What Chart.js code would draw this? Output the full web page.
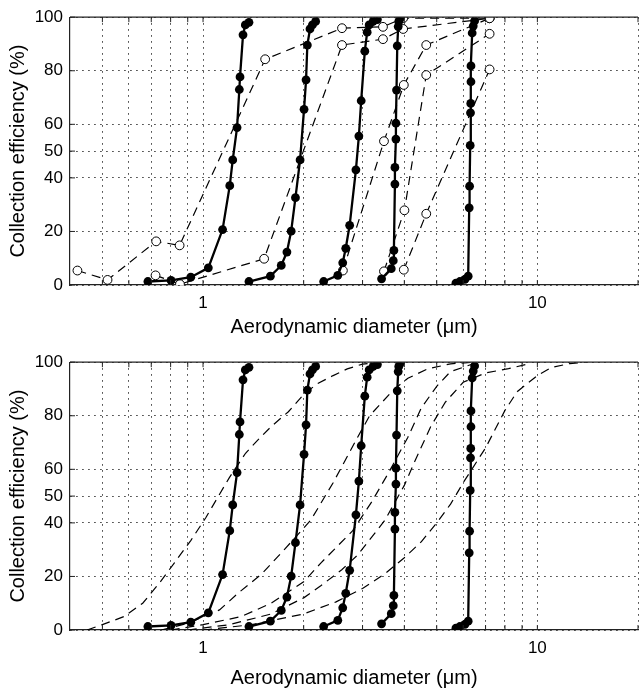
<!DOCTYPE html>
<html>
<head>
<meta charset="utf-8">
<script src="https://cdn.jsdelivr.net/npm/chart.js@4.4.1/dist/chart.umd.min.js"></script>
<style>
  html, body { margin: 0; padding: 0; background: #fff; overflow: hidden; }
  canvas { position: absolute; left: 0; }
  #topChart { top: 0; }
  #bottomChart { top: 345px; }
</style>
</head>
<body>
<canvas id="topChart" width="646" height="345"></canvas>
<canvas id="bottomChart" width="646" height="345"></canvas>
<script>
// axis ticks / grid
const xGrid = [0.5, 0.6, 0.7, 0.8, 0.9, 1, 2, 3, 4, 5, 6, 7, 8, 9, 10, 20];
const xLabels = { 1: "1", 10: "10" };
const yTicks = [0, 20, 40, 50, 60, 80, 100];

// measured stages (solid, filled markers) - same in both panels
const stage1X = [0.684, 0.802, 0.919, 1.037, 1.144, 1.202, 1.227, 1.264, 1.284, 1.290, 1.317, 1.338, 1.372];
const stage1Y = [1.3, 1.7, 2.9, 6.4, 20.7, 37.1, 46.7, 58.8, 73.0, 77.7, 93.4, 97.1, 98.1];
const stage2X = [1.372, 1.590, 1.714, 1.782, 1.835, 1.890, 1.951, 2.005, 2.033, 2.051, 2.089, 2.124, 2.172];
const stage2Y = [1.3, 3.3, 7.3, 12.3, 20.1, 32.6, 46.7, 65.6, 76.6, 89.6, 95.6, 97.1, 98.4];
const stage3X = [2.295, 2.53, 2.617, 2.672, 2.745, 2.866, 2.925, 2.972, 3.047, 3.097, 3.14, 3.227, 3.323];
const stage3Y = [1.3, 3.6, 8.3, 13.7, 22.3, 43.0, 55.6, 68.8, 87.3, 94.4, 97.1, 98.4, 99.1];
const stage4X = [3.42, 3.656, 3.707, 3.723, 3.749, 3.749, 3.775, 3.775, 3.791, 3.81, 3.835, 3.85, 3.89];
const stage4Y = [2.3, 6.1, 9.1, 12.9, 37.7, 43.9, 54.5, 60.4, 72.8, 89.3, 96.5, 98.4, 99.6];
const stage5X = [5.707, 5.866, 6.07, 6.21, 6.254, 6.27, 6.297, 6.31, 6.32, 6.33, 6.33, 6.383, 6.43, 6.49];
const stage5Y = [0.7, 1.3, 2.1, 3.3, 28.8, 36.9, 52.1, 64.3, 67.8, 75.9, 81.8, 94.1, 96.7, 98.6];

// top panel: comparison data (dashed, open markers)
const ref1X = [0.421, 0.518, 0.724, 0.851, 1.534, 2.604, 3.453, 3.968, 7.197];
const ref1Y = [5.4, 1.9, 16.3, 14.8, 84.3, 95.9, 96.4, 99.6, 99.6];
const ref2X = [0.721, 0.853, 1.523, 2.604, 3.453, 3.968, 7.197];
const ref2Y = [3.6, 0.3, 9.8, 89.6, 91.8, 95.6, 99.6];
const ref3X = [2.62, 3.477, 3.986, 4.652, 7.197];
const ref3Y = [5.4, 53.7, 74.7, 89.6, 99.6];
const ref4X = [3.477, 4.003, 4.652, 7.197];
const ref4Y = [5.1, 27.9, 78.4, 93.8];
const ref5X = [3.986, 4.652, 7.197];
const ref5Y = [5.7, 26.6, 80.5];

// bottom panel: model curves (dashed, no markers)
const model1X = [0.45, 0.5, 0.58, 0.66, 0.74, 0.82, 0.92, 1.02, 1.1, 1.2, 1.34, 1.46, 1.6, 1.8, 2.0, 2.2, 2.45, 2.7, 3.0, 3.4];
const model1Y = [0, 2, 5, 10, 17.5, 25, 33.5, 42, 49, 57, 66, 71, 76, 81.5, 88, 92, 95, 97.5, 99.3, 100];
const model2X = [0.75, 0.9, 1.0, 1.12, 1.28, 1.5, 1.75, 2.1, 2.45, 2.9, 3.15, 3.7, 4.1, 4.7, 5.5, 6.5];
const model2Y = [0, 2.5, 5, 7.5, 14, 21, 30, 41, 55, 72, 80, 89.5, 94, 97.5, 99.4, 100];
const model3X = [0.8, 1.0, 1.3, 1.6, 2.0, 2.25, 2.8, 3.2, 3.6, 4.1, 4.5, 5.0, 5.5, 6.5];
const model3Y = [0, 2, 5, 10, 18, 25, 37, 48, 59, 72, 83, 91, 96.5, 99.6];
const model4X = [0.9, 1.2, 1.6, 2.0, 2.25, 2.6, 2.9, 3.5, 4.0, 4.3, 4.8, 5.3, 6.0, 7.0, 8.2, 9.5];
const model4Y = [0, 2, 6, 12, 16.5, 22.5, 28, 41, 54, 63, 76, 85, 92.5, 96, 97.6, 99.5];
const model5X = [1.0, 1.4, 2.0, 2.5, 3.0, 3.5, 4.0, 4.5, 5.0, 5.5, 6.0, 7.0, 8.0, 8.7, 10, 11, 12.5, 14];
const model5Y = [0, 2, 6, 10.5, 15.5, 21, 27, 33, 40, 47, 55, 68, 82, 89, 95, 98, 99.5, 100];

const FONT = "'Liberation Sans', Arial, Helvetica, sans-serif";

function pts(xs, ys) {
  return xs.map((x, i) => ({ x: x, y: ys[i] }));
}

function solid(xs, ys) {
  return {
    data: pts(xs, ys),
    borderColor: "#000",
    borderWidth: 2.3,
    pointRadius: 4.4,
    pointBackgroundColor: "#000",
    pointBorderColor: "#000",
    pointBorderWidth: 0,
    tension: 0
  };
}

function dashed(xs, ys, withMarkers) {
  return {
    data: pts(xs, ys),
    borderColor: "#000",
    borderWidth: 1.2,
    borderDash: [9, 6],
    pointRadius: withMarkers ? 4.4 : 0,
    pointBackgroundColor: "#fff",
    pointBorderColor: "#000",
    pointBorderWidth: 1,
    tension: 0
  };
}

// top frame line and MATLAB-style inward ticks
const framePlugin = {
  id: "frame",
  afterDraw(chart) {
    const { ctx, chartArea: a, scales } = chart;
    ctx.save();
    ctx.strokeStyle = "#222";
    ctx.lineWidth = 1.2;
    ctx.beginPath();
    ctx.moveTo(a.left, a.top);
    ctx.lineTo(a.right, a.top);
    ctx.stroke();
    ctx.lineWidth = 1;
    ctx.beginPath();
    xGrid.forEach(v => {
      const px = scales.x.getPixelForValue(v);
      ctx.moveTo(px, a.bottom);
      ctx.lineTo(px, a.bottom - 5);
      ctx.moveTo(px, a.top);
      ctx.lineTo(px, a.top + 5);
    });
    yTicks.forEach(v => {
      const py = scales.y.getPixelForValue(v);
      ctx.moveTo(a.left, py);
      ctx.lineTo(a.left + 5, py);
    });
    ctx.stroke();
    ctx.restore();
  }
};

function makeChart(id, datasets, titlePad) {
  return new Chart(document.getElementById(id), {
    type: "line",
    data: { datasets: datasets },
    plugins: [framePlugin],
    options: {
      responsive: false,
      animation: false,
      layout: { padding: { top: 17, right: 3, left: 0, bottom: 0 } },
      plugins: { legend: { display: false }, tooltip: { enabled: false } },
      scales: {
        x: {
          type: "logarithmic",
          min: 0.4,
          max: 20,
          afterBuildTicks: s => { s.ticks = xGrid.map(v => ({ value: v })); },
          afterFit: s => { s.height = 60; },
          ticks: {
            autoSkip: false,
            maxRotation: 0,
            padding: 8,
            color: "#000",
            font: { family: FONT, size: 17 },
            callback: v => xLabels[v] || ""
          },
          grid: { color: "#333", lineWidth: 1, drawTicks: false },
          border: { color: "#222", width: 1.2, dash: [1.5, 4.5] },
          title: {
            display: true,
            text: "Aerodynamic diameter (\u03bcm)",
            color: "#000",
            font: { family: FONT, size: 20 },
            padding: { top: 0, bottom: titlePad }
          }
        },
        y: {
          type: "linear",
          min: 0,
          max: 100,
          afterBuildTicks: s => { s.ticks = yTicks.map(v => ({ value: v })); },
          afterFit: s => { s.width = 70; },
          ticks: {
            padding: 7,
            color: "#000",
            font: { family: FONT, size: 17 }
          },
          grid: { color: "#333", lineWidth: 1, drawTicks: false },
          border: { color: "#222", width: 1.2, dash: [1.5, 4.5] },
          title: {
            display: true,
            text: "Collection efficiency (%)",
            color: "#000",
            font: { family: FONT, size: 20 },
            padding: { top: 6, bottom: 0 }
          }
        }
      }
    }
  });
}

const stages = [
  solid(stage1X, stage1Y), solid(stage2X, stage2Y), solid(stage3X, stage3Y),
  solid(stage4X, stage4Y), solid(stage5X, stage5Y)
];

makeChart("topChart", stages.concat([
  dashed(ref1X, ref1Y, true), dashed(ref2X, ref2Y, true), dashed(ref3X, ref3Y, true),
  dashed(ref4X, ref4Y, true), dashed(ref5X, ref5Y, true)
]), 6);

makeChart("bottomChart", [
  solid(stage1X, stage1Y), solid(stage2X, stage2Y), solid(stage3X, stage3Y),
  solid(stage4X, stage4Y), solid(stage5X, stage5Y),
  dashed(model1X, model1Y, false), dashed(model2X, model2Y, false), dashed(model3X, model3Y, false),
  dashed(model4X, model4Y, false), dashed(model5X, model5Y, false)
], 0);
</script>
</body>
</html>
